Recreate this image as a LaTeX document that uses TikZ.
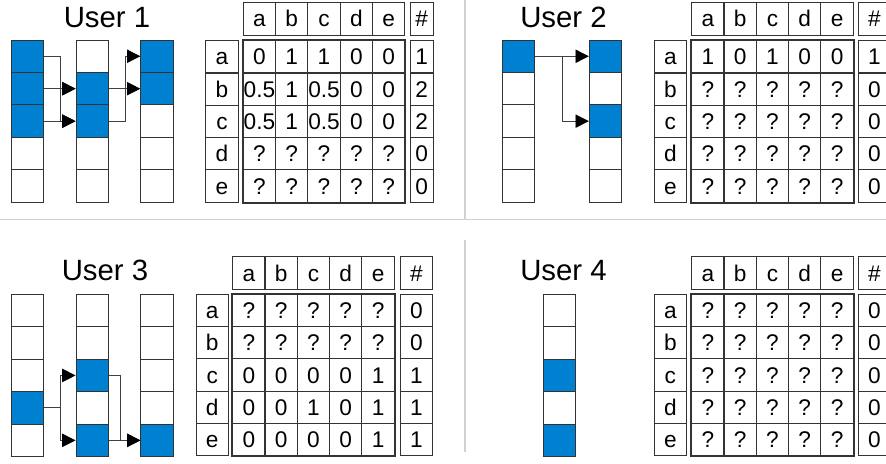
\documentclass[tikz,border=0pt]{standalone}
\usepackage{fontspec}
\setmainfont{Liberation Sans}
\usetikzlibrary{arrows.meta}
\definecolor{ublue}{RGB}{0,128,208}
\tikzset{
	slot/.style={draw=black!80,line width=0.8pt,minimum width=24.2pt,minimum height=24.3pt,inner sep=0pt},
	cell/.style={slot,font=\fontsize{17}{17}\selectfont,text height=12.2pt,text depth=0pt},
	frame/.style={draw=black!80,line width=1.4pt},
	link/.style={draw=black!75,line width=0.7pt,-{Triangle[length=10pt,width=10pt,color=black]}},
	sep/.style={draw=black!18,line width=1.1pt},
	title/.style={anchor=base,font=\fontsize{22}{22}\selectfont}
}
% one column of five slots
\newcommand{\slotcol}[4]{%
	\foreach \fillc [count=\ii] in {#4}
		\node[slot,fill=\fillc] (#1\ii) at (#2,#3+32.45*\ii-16.2) {};
}
% header, row labels, matrix and count column
\newcommand{\usertable}[8]{%
	\foreach \lab [count=\jj] in {a,b,c,d,e}
		\node[cell] (#1h\jj) at (#3+32.3*\jj-16.15,#6) {\lab};
	\node[cell,minimum width=#5] (#1hn) at (#4,#6) {\#};
	\foreach \lab [count=\ii] in {a,b,c,d,e}
		\node[cell] (#1l\ii) at (#2,#7+32.3*\ii-16.15) {\lab};
	\foreach \rowlist [count=\ii] in {#8} {
		\foreach \val [count=\jj] in \rowlist {
			\ifnum\jj<6
				\node[cell] (#1m\ii\jj) at (#3+32.3*\jj-16.15,#7+32.3*\ii-16.15) {\val};
			\else
				\node[cell,minimum width=#5] (#1n\ii) at (#4,#7+32.3*\ii-16.15) {\val};
			\fi
		}
	}
	\draw[frame] (#1m11.north west) rectangle (#1m55.south east);
}

\begin{document}
\begin{tikzpicture}[x=0.75pt,y=-0.75pt]
	\useasboundingbox (0,0) rectangle (886,464);
	\draw[sep] (0,219.3)--(886,219.3);
	\draw[sep] (465,0)--(465,219.3);
	\draw[sep] (465,240)--(465,452);

	% User 1
	\node[title] (title1) at (107,27.3) {User 1};
	\slotcol{u1a}{27.5}{40}{ublue,ublue,ublue,white,white}
	\slotcol{u1b}{92.2}{40}{white,ublue,ublue,white,white}
	\slotcol{u1c}{157}{40}{ublue,ublue,white,white,white}
	\draw[link] (u1a1.east) -- ++(16.7,0) |- (u1b2.west);
	\draw[link] (u1a1.east) -- ++(16.7,0) |- (u1b3.west);
	\draw[link] (u1a2.east) -- (u1b2.west);
	\draw[link] (u1a3.east) -- (u1b3.west);
	\draw[link] (u1b2.east) -- (u1c2.west);
	\draw[link] (u1b3.east) -- ++(16.7,0) |- (u1c1.west);
	\usertable{t1}{222}{243.3}{421.7}{17.5pt}{18.85}{40.7}{{0,1,1,0,0,1},{0.5,1,0.5,0,0,2},{0.5,1,0.5,0,0,2},{?,?,?,?,?,0},{?,?,?,?,?,0}}

	% User 2
	\node[title] (title2) at (563.5,27.3) {User 2};
	\slotcol{u2a}{518.3}{40}{ublue,white,white,white,white}
	\slotcol{u2b}{605.5}{40}{ublue,white,ublue,white,white}
	\draw[link] (u2a1.east) -- (u2b1.west);
	\draw[link] (u2a1.east) -- ++(27.4,0) |- (u2b3.west);
	\usertable{t2}{670.3}{691.7}{874.5}{24.2pt}{18.85}{40.7}{{1,0,1,0,0,1},{?,?,?,?,?,0},{?,?,?,?,?,0},{?,?,?,?,?,0},{?,?,?,?,?,0}}

	% User 3
	\node[title] (title3) at (105,280.7) {User 3};
	\slotcol{u3a}{27.5}{294.3}{white,white,white,ublue,white}
	\slotcol{u3b}{92.2}{294.3}{white,white,ublue,white,ublue}
	\slotcol{u3c}{157}{294.3}{white,white,white,white,ublue}
	\draw[link] (u3a4.east) -- ++(16.7,0) |- (u3b3.west);
	\draw[link] (u3a4.east) -- ++(16.7,0) |- (u3b5.west);
	\draw[link] (u3b3.east) -- ++(11.7,0) |- (u3c5.west);
	\draw[link] (u3b5.east) -- (u3c5.west);
	\usertable{t3}{212.2}{232.7}{416.3}{24.2pt}{273}{294.3}{{?,?,?,?,?,0},{?,?,?,?,?,0},{0,0,0,0,1,1},{0,0,1,0,1,1},{0,0,0,0,1,1}}

	% User 4
	\node[title] (title4) at (563.5,280.7) {User 4};
	\slotcol{u4a}{559.2}{294.3}{white,white,ublue,white,ublue}
	\usertable{t4}{670.3}{691.7}{874.5}{24.2pt}{273}{294.3}{{?,?,?,?,?,0},{?,?,?,?,?,0},{?,?,?,?,?,0},{?,?,?,?,?,0},{?,?,?,?,?,0}}
\end{tikzpicture}
\end{document}
